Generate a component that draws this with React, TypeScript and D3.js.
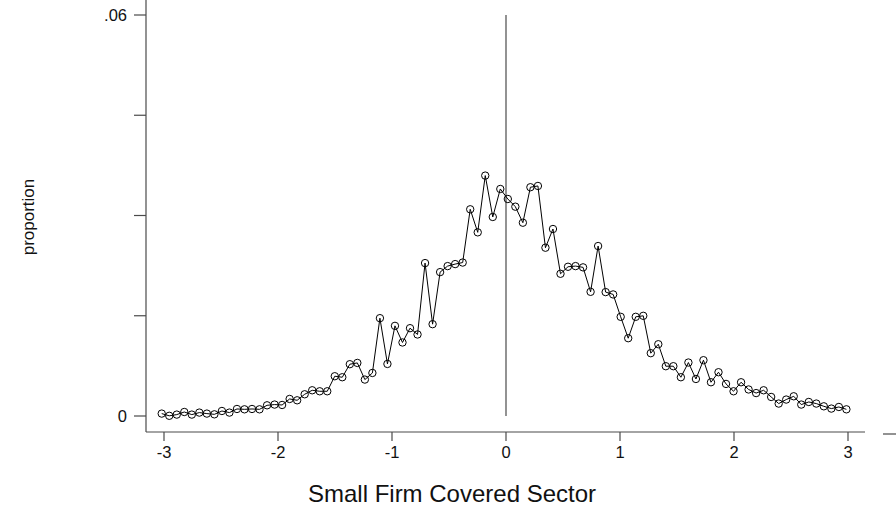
import React from "react";
import * as d3 from "d3";

// Bin centres of the running variable (standard deviations from the threshold)
const binCenters: number[] = [
  -3.02, -2.954, -2.888, -2.822, -2.756, -2.69, -2.624, -2.558, -2.492, -2.426,
  -2.36, -2.294, -2.228, -2.162, -2.096, -2.03, -1.964, -1.898, -1.832, -1.766,
  -1.7, -1.634, -1.568, -1.502, -1.436, -1.37, -1.304, -1.238, -1.172, -1.106,
  -1.04, -0.974, -0.908, -0.842, -0.776, -0.71, -0.644, -0.578, -0.512, -0.446,
  -0.38, -0.314, -0.248, -0.182, -0.116, -0.05, 0.016, 0.082, 0.148, 0.214,
  0.28, 0.346, 0.412, 0.478, 0.544, 0.61, 0.676, 0.742, 0.808, 0.874,
  0.94, 1.006, 1.072, 1.138, 1.204, 1.27, 1.336, 1.402, 1.468, 1.534,
  1.6, 1.666, 1.732, 1.798, 1.864, 1.93, 1.996, 2.062, 2.128, 2.194,
  2.26, 2.326, 2.392, 2.458, 2.524, 2.59, 2.656, 2.722, 2.788, 2.854,
  2.92, 2.986,
];

// Share of observations falling in each bin
const proportions: number[] = [
  0.00036, 0.00003, 0.00021, 0.0006, 0.00021, 0.00051, 0.00036, 0.00025, 0.00075, 0.00051,
  0.00105, 0.001, 0.00105, 0.001, 0.0016, 0.00171, 0.00165, 0.00255, 0.00235, 0.00325,
  0.00385, 0.0037, 0.0037, 0.00595, 0.0058, 0.00775, 0.00794, 0.00545, 0.00644, 0.01464,
  0.00779, 0.01349, 0.011, 0.01314, 0.0122, 0.02288, 0.01374, 0.02153, 0.02243, 0.02273,
  0.02296, 0.03093, 0.02748, 0.03597, 0.02978, 0.03397, 0.03247, 0.03132, 0.02892, 0.03423,
  0.03442, 0.02518, 0.02798, 0.02128, 0.02233, 0.02243, 0.02224, 0.01858, 0.02543, 0.01854,
  0.01819, 0.01484, 0.01164, 0.01484, 0.01499, 0.0094, 0.01074, 0.00745, 0.00745, 0.0058,
  0.008, 0.00554, 0.00835, 0.00505, 0.00655, 0.0048, 0.0037, 0.00505, 0.00397, 0.00343,
  0.00385, 0.00285, 0.00186, 0.00246, 0.00295, 0.00171, 0.0021, 0.00186, 0.00145, 0.00111,
  0.00135, 0.001,
];

const xTicks: number[] = [-3, -2, -1, 0, 1, 2, 3];
const yTicks: number[] = [0, 0.015, 0.03, 0.045, 0.06];
const yTickLabels: string[] = ["0", "", "", "", ".06"];

const W = 896;
const H = 506;
const axisColor = "#4a4a4a";
const font = "'Liberation Sans', Arial, Helvetica, sans-serif";

export default function App() {
  const x = d3.scaleLinear().domain([-3, 3]).range([164, 848]);
  const y = d3.scaleLinear().domain([0, 0.06]).range([416, 15]);

  const axisY = 432;
  const axisX = 146;

  const points = binCenters.map((c, i) => [c, proportions[i]] as [number, number]);
  const line = d3
    .line<[number, number]>()
    .x((d) => x(d[0]))
    .y((d) => y(d[1]));

  return (
    <svg
      width={W}
      height={H}
      style={{ position: "fixed", left: 0, top: 0, background: "#fff" }}
      fontFamily={font}
    >
      <rect x={0} y={0} width={W} height={H} fill="#fff" />

      {/* y axis */}
      <line x1={axisX} x2={axisX} y1={0} y2={axisY} stroke={axisColor} strokeWidth={1.2} />
      {yTicks.map((t, i) => (
        <g key={"yt" + i}>
          <line x1={axisX - 12} x2={axisX} y1={y(t)} y2={y(t)} stroke={axisColor} strokeWidth={1.2} />
          {yTickLabels[i] && (
            <text
              x={axisX - 19}
              y={y(t)}
              textAnchor="end"
              dominantBaseline="central"
              fontSize={16.5}
              fill="#111"
            >
              {yTickLabels[i]}
            </text>
          )}
        </g>
      ))}

      {/* x axis */}
      <line x1={axisX} x2={865} y1={axisY} y2={axisY} stroke={axisColor} strokeWidth={1.2} />
      {xTicks.map((t) => (
        <g key={"xt" + t}>
          <line x1={x(t)} x2={x(t)} y1={axisY} y2={axisY + 9} stroke={axisColor} strokeWidth={1.2} />
          <text x={x(t)} y={458} textAnchor="middle" fontSize={16.5} fill="#111">
            {t}
          </text>
        </g>
      ))}
      <line x1={883} x2={896} y1={434} y2={434} stroke={axisColor} strokeWidth={1.2} />

      {/* threshold line */}
      <line x1={x(0)} x2={x(0)} y1={y(0.06)} y2={y(0)} stroke={axisColor} strokeWidth={1.2} />

      {/* series */}
      <path d={line(points) || ""} fill="none" stroke="#000" strokeWidth={1} />
      {points.map((p, i) => (
        <circle
          key={"p" + i}
          cx={x(p[0])}
          cy={y(p[1])}
          r={3.7}
          fill="none"
          stroke="#000"
          strokeWidth={1}
        />
      ))}

      {/* axis titles */}
      <text
        transform={`translate(28,217) rotate(-90)`}
        textAnchor="middle"
        dominantBaseline="central"
        fontSize={17}
        fill="#111"
      >
        proportion
      </text>
      <text x={452} y={502} textAnchor="middle" fontSize={24} fill="#111">
        Small Firm Covered Sector
      </text>
    </svg>
  );
}
